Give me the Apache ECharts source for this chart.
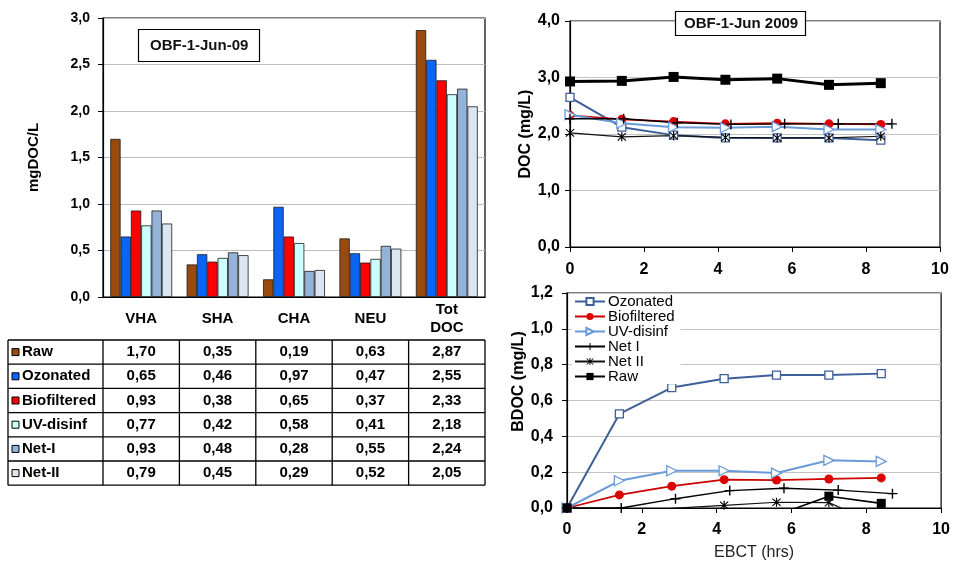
<!DOCTYPE html>
<html><head><meta charset="utf-8">
<script src="https://cdn.jsdelivr.net/npm/echarts@6/dist/echarts.min.js"></script>
<style>html,body{margin:0;padding:0;background:#fff}#c{width:953px;height:563px}</style>
</head><body><div id="c"></div>
<script>
// ---- Left chart: DOC fractions (mg DOC/L) ----
const categories = ['VHA', 'SHA', 'CHA', 'NEU', 'Tot\nDOC'];
const fractionNames = ['Raw', 'Ozonated', 'Biofiltered', 'UV-disinf', 'Net-I', 'Net-II'];
const rawFrac = [1.70, 0.35, 0.19, 0.63, 2.87];
const ozonatedFrac = [0.65, 0.46, 0.97, 0.47, 2.55];
const biofilteredFrac = [0.93, 0.38, 0.65, 0.37, 2.33];
const uvDisinfFrac = [0.77, 0.42, 0.58, 0.41, 2.18];
const netIFrac = [0.93, 0.48, 0.28, 0.55, 2.24];
const netIIFrac = [0.79, 0.45, 0.29, 0.52, 2.05];
const fractionValues = [rawFrac, ozonatedFrac, biofilteredFrac, uvDisinfFrac, netIFrac, netIIFrac];

// ---- Right charts: EBCT (hrs) ----
const ebct = [0, 1.4, 2.8, 4.2, 5.6, 7.0, 8.4];
const ebctNetI = [0, 1.45, 2.9, 4.35, 5.8, 7.25, 8.7];
// DOC (mg/L)
const docOzonated = [2.65, 2.12, 1.98, 1.93, 1.93, 1.93, 1.89];
const docBiofiltered = [2.33, 2.26, 2.22, 2.18, 2.19, 2.18, 2.17];
const docUvDisinf = [2.34, 2.19, 2.12, 2.11, 2.13, 2.08, 2.08];
const docNetI = [2.27, 2.27, 2.20, 2.17, 2.18, 2.18, 2.18];
const docNetII = [2.02, 1.95, 1.97, 1.94, 1.93, 1.93, 1.96];
const docRaw = [2.93, 2.94, 3.01, 2.96, 2.98, 2.87, 2.90];
// BDOC (mg/L)
const bdocOzonated = [0, 0.525, 0.672, 0.722, 0.742, 0.742, 0.750];
const bdocBiofiltered = [0, 0.073, 0.122, 0.158, 0.156, 0.162, 0.168];
const bdocUvDisinf = [0, 0.152, 0.208, 0.208, 0.195, 0.266, 0.260];
const bdocNetI = [0, 0, 0.052, 0.097, 0.110, 0.100, 0.080];
const bdocNetII = [0, -0.05, -0.002, 0.015, 0.032, 0.030, -0.10];
const bdocRaw = [0, -0.02, -0.08, -0.03, -0.04, 0.066, 0.026];

const FONT = 'Liberation Sans, Arial, sans-serif';
const fracColors = ['#9a4a0c', '#0a64f5', '#ff0000', '#ccffff', '#95b3d7', '#dce6f2'];
const comma1 = v => v.toFixed(1).replace('.', ',');
const comma2 = v => v.toFixed(2).replace('.', ',');
const pairs = (xs, ys) => xs.map((x, i) => [x, ys[i]]);

const PLUS = 'path://M4.3,0H5.7V4.3H10V5.7H5.7V10H4.3V5.7H0V4.3H4.3Z';
const STAR = 'path://M4.4,0H5.6V10H4.4Z M1.3,0.5L5,4.2L8.7,0.5L9.5,1.3L5.8,5L9.5,8.7L8.7,9.5L5,5.8L1.3,9.5L0.5,8.7L4.2,5L0.5,1.3Z';

const lineDefs = [
  {name: 'Ozonated', symbol: 'rect', size: 8, color: '#3d5f99', fill: '#fff', lw: 2},
  {name: 'Biofiltered', symbol: 'circle', size: 9, color: '#cc0000', fill: '#dd0000', lw: 1.8},
  {name: 'UV-disinf', symbol: 'triangle', size: 10, color: '#6a9ad8', fill: '#fff', lw: 2, rot: -90},
  {name: 'Net I', symbol: PLUS, size: 10, color: '#000', fill: '#000', lw: 1.4},
  {name: 'Net II', symbol: STAR, size: 9, color: '#111', fill: '#000', lw: 1.2},
  {name: 'Raw', symbol: 'rect', size: 9, color: '#000', fill: '#000', lw: 1.6}
];
const bdocData = [pairs(ebct, bdocOzonated), pairs(ebct, bdocBiofiltered), pairs(ebct, bdocUvDisinf),
                  pairs(ebctNetI, bdocNetI), pairs(ebct, bdocNetII), pairs(ebct, bdocRaw)];
const docData = [pairs(ebct, docOzonated), pairs(ebct, docBiofiltered), pairs(ebct, docUvDisinf),
                 pairs(ebctNetI, docNetI), pairs(ebct, docNetII), pairs(ebct, docRaw)];

function lineSeries(def, data, idx, prefix, lwOverride, sizeOverride) {
  const hollow = def.fill === '#fff';
  return {
    type: 'line', name: prefix + def.name, xAxisIndex: idx, yAxisIndex: idx, data: data,
    symbol: def.symbol, symbolSize: sizeOverride || def.size, symbolRotate: def.rot || 0, showAllSymbol: true,
    lineStyle: {color: def.color, width: lwOverride || def.lw},
    itemStyle: {color: def.fill, borderColor: def.color, borderWidth: hollow ? 1.3 : 0},
    clip: true, z: 3
  };
}

const series = [];
lineDefs.forEach((d, i) => series.push(lineSeries(d, bdocData[i], 2, '', d.name === 'Raw' ? 1.6 : null)));
lineDefs.forEach((d, i) => series.push(lineSeries(d, docData[i], 1, 'DOC ', d.name === 'Raw' ? 3 : null, d.name === 'Raw' ? 10 : null)));
fractionNames.forEach((n, i) => series.push({
  type: 'bar', name: n, xAxisIndex: 0, yAxisIndex: 0, data: fractionValues[i],
  barGap: '0%', barCategoryGap: '19%',
  itemStyle: {color: fracColors[i], borderColor: '#1a1a1a', borderWidth: 0.8}
}));

const axisBlack = {lineStyle: {color: '#000', width: 1.2}};
const tickLabel = (sz, m) => ({fontFamily: FONT, fontWeight: 'bold', fontSize: sz, color: '#000', margin: m});

const option = {
  animation: false,
  backgroundColor: '#fff',
  textStyle: {fontFamily: FONT},
  title: [
    {text: 'OBF-1-Jun-09', left: 138, top: 29, padding: [9, 11, 9, 12], borderColor: '#000', borderWidth: 1.2,
     backgroundColor: '#fff', textStyle: {fontFamily: FONT, fontSize: 15, fontWeight: 'bold', color: '#111'}},
    {text: 'OBF-1-Jun 2009', left: 675, top: 11, padding: [5, 8, 5, 9], borderColor: '#000', borderWidth: 1.2,
     backgroundColor: '#fff', textStyle: {fontFamily: FONT, fontSize: 15, fontWeight: 'bold', color: '#111'}}
  ],
  legend: {
    data: lineDefs.map(d => d.name), orient: 'vertical', left: 572, top: 294,
    itemWidth: 30, itemHeight: 9, itemGap: 0, padding: [0, 6, 0, 2], backgroundColor: '#fff',
    textStyle: {fontFamily: FONT, fontSize: 15, color: '#000', lineHeight: 15, padding: [0, 0, 0, -2]}
  },
  grid: [
    {left: 103, top: 18, width: 382, height: 279, show: true, borderColor: '#000', borderWidth: 1.2, backgroundColor: '#fff'},
    {left: 570, top: 21, width: 370, height: 226, show: true, borderColor: '#000', borderWidth: 1.2, backgroundColor: '#fff'},
    {left: 567, top: 293, width: 375, height: 215, show: true, borderColor: '#000', borderWidth: 1.2, backgroundColor: '#fff'}
  ],
  xAxis: [
    {type: 'category', gridIndex: 0, data: categories, axisLine: axisBlack,
     axisTick: {length: 43, lineStyle: {color: '#000', width: 1.2}},
     axisLabel: {fontFamily: FONT, fontWeight: 'bold', fontSize: 15, color: '#000', margin: 22,
                 verticalAlign: 'middle', lineHeight: 18, interval: 0}},
    {type: 'value', gridIndex: 1, min: 0, max: 10, interval: 2, axisLine: axisBlack,
     axisTick: {length: 5, lineStyle: {color: '#000'}}, splitLine: {show: false}, axisLabel: tickLabel(16, 15)},
    {type: 'value', gridIndex: 2, min: 0, max: 10, interval: 2, axisLine: axisBlack,
     axisTick: {length: 5, lineStyle: {color: '#000'}}, splitLine: {show: false}, axisLabel: tickLabel(16, 14),
     name: 'EBCT (hrs)', nameLocation: 'middle', nameGap: 37,
     nameTextStyle: {fontFamily: FONT, fontSize: 16, color: '#222'}}
  ],
  yAxis: [
    {type: 'value', gridIndex: 0, min: 0, max: 3, interval: 0.5, axisLine: {show: true, lineStyle: {color: '#000', width: 1.2}},
     axisTick: {show: true, length: 5, lineStyle: {color: '#000'}},
     axisLabel: Object.assign(tickLabel(14, 13), {formatter: comma1}),
     splitLine: {lineStyle: {color: '#bdbdbd', width: 1}},
     name: 'mgDOC/L', nameLocation: 'middle', nameRotate: 90, nameGap: 62,
     nameTextStyle: {fontFamily: FONT, fontSize: 15, fontWeight: 'bold', color: '#000'}},
    {type: 'value', gridIndex: 1, min: 0, max: 4, interval: 1, axisLine: {show: true, lineStyle: {color: '#000', width: 1.2}},
     axisTick: {show: true, length: 5, lineStyle: {color: '#000'}},
     axisLabel: Object.assign(tickLabel(16, 10), {formatter: comma1}),
     splitLine: {lineStyle: {color: '#c4c4c4', width: 1}},
     name: 'DOC (mg/L)', nameLocation: 'middle', nameRotate: 90, nameGap: 34,
     nameTextStyle: {fontFamily: FONT, fontSize: 16, fontWeight: 'bold', color: '#000'}},
    {type: 'value', gridIndex: 2, min: 0, max: 1.2, interval: 0.2, axisLine: {show: true, lineStyle: {color: '#000', width: 1.2}},
     axisTick: {show: true, length: 5, lineStyle: {color: '#000'}},
     axisLabel: Object.assign(tickLabel(16, 14), {formatter: comma1}),
     splitLine: {lineStyle: {color: '#c4c4c4', width: 1}},
     name: 'BDOC (mg/L)', nameLocation: 'middle', nameRotate: 90, nameGap: 34,
     nameTextStyle: {fontFamily: FONT, fontSize: 16, fontWeight: 'bold', color: '#000', padding: [0, 0, 0, 38]}}
  ],
  series: series
};

const chart = echarts.init(document.getElementById('c'), null, {renderer: 'canvas'});
chart.setOption(option);

// ---- Data table under the bar chart, aligned to the category axis ----
const c0 = chart.convertToPixel({xAxisIndex: 0}, 0);
const c1 = chart.convertToPixel({xAxisIndex: 0}, 1);
const band = c1 - c0;
const axisY = chart.convertToPixel({yAxisIndex: 0}, 0);
const tableTop = axisY + 43;
const rowH = 24.2;
const tableLeft = 8;
const colLeft = c0 - band / 2;
const tableRight = colLeft + band * categories.length;
const tableBottom = tableTop + rowH * fractionNames.length;
const gfx = [];
const ls = {stroke: '#000', lineWidth: 1.3};
for (let r = 0; r <= fractionNames.length; r++) {
  const y = tableTop + r * rowH;
  gfx.push({type: 'line', shape: {x1: tableLeft, y1: y, x2: tableRight, y2: y}, style: ls, z: 10});
}
gfx.push({type: 'line', shape: {x1: tableLeft, y1: tableTop, x2: tableLeft, y2: tableBottom}, style: ls, z: 10});
for (let k = 0; k <= categories.length; k++) {
  const x = colLeft + k * band;
  gfx.push({type: 'line', shape: {x1: x, y1: tableTop, x2: x, y2: tableBottom}, style: ls, z: 10});
}
fractionNames.forEach((n, r) => {
  const yc = tableTop + r * rowH + rowH / 2;
  gfx.push({type: 'rect', shape: {x: 12, y: yc - 3.5, width: 7, height: 7},
            style: {fill: fracColors[r], stroke: '#000', lineWidth: 1}, z: 11});
  gfx.push({type: 'text', x: 22, y: yc, style: {text: n, fill: '#000', font: 'bold 15px ' + FONT,
            textVerticalAlign: 'middle', verticalAlign: 'middle'}, z: 11});
  fractionValues[r].forEach((v, c) => {
    gfx.push({type: 'text', x: chart.convertToPixel({xAxisIndex: 0}, c), y: yc,
              style: {text: comma2(v), fill: '#000', font: 'bold 15px ' + FONT,
                      align: 'center', textAlign: 'center', verticalAlign: 'middle', textVerticalAlign: 'middle'}, z: 11});
  });
});
chart.setOption({graphic: gfx});
</script>
</body></html>
